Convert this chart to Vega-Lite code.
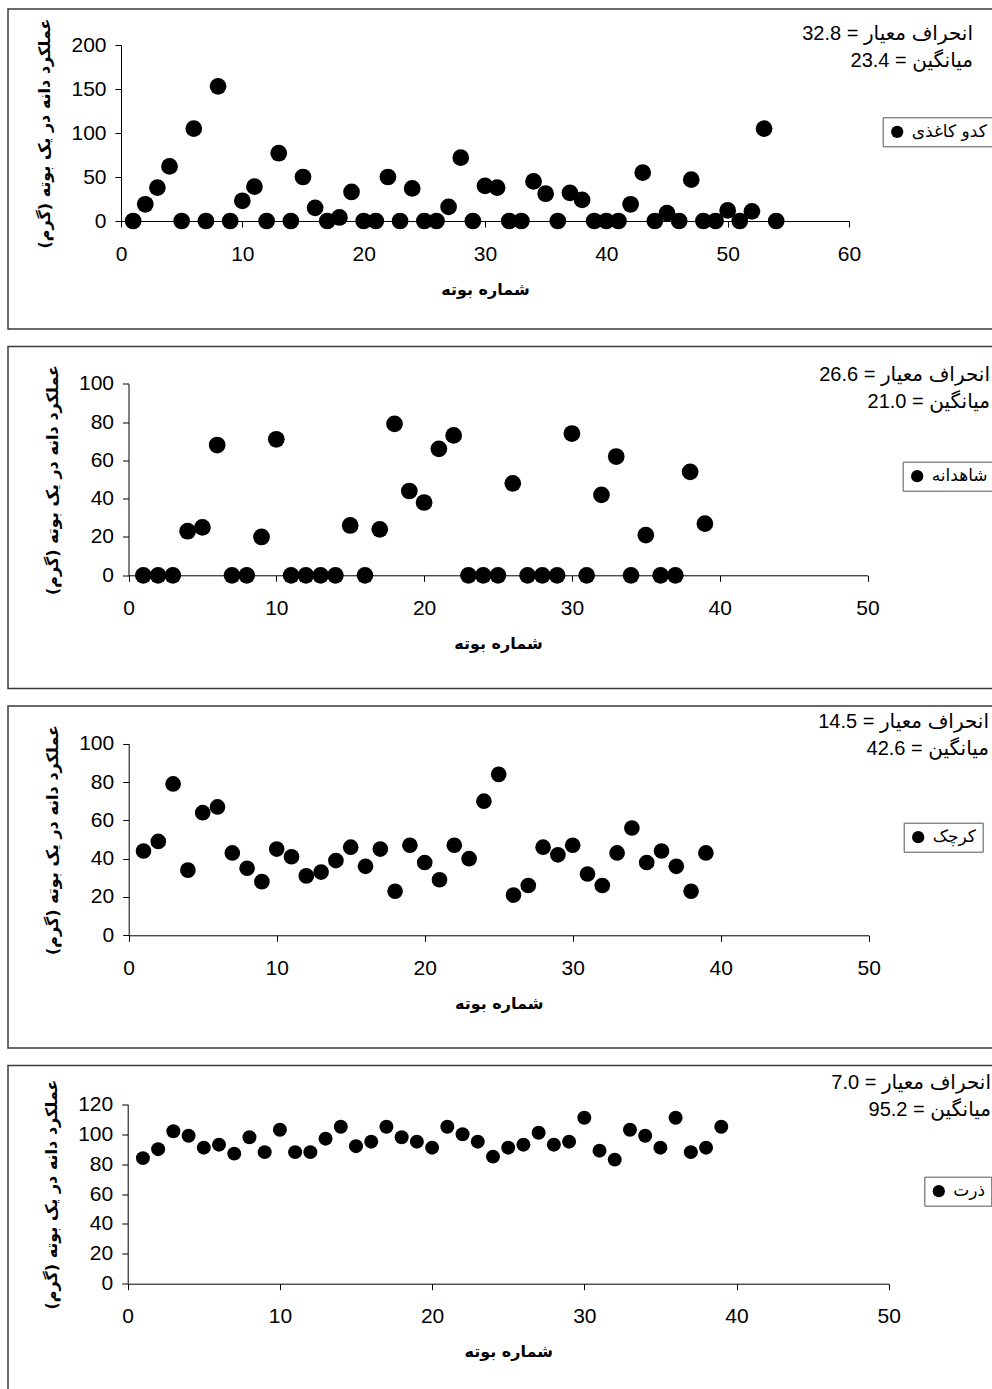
{
  "$schema": "https://vega.github.io/schema/vega-lite/v6.json",
  "padding": {"left": 7, "top": 8, "right": -25, "bottom": -16},
  "background": "white",
  "spacing": 15.5,
  "config": {
    "view": {"stroke": "#3a3a3a", "strokeWidth": 1.5},
    "font": "Liberation Sans, Arial, DejaVu Sans, sans-serif",
    "axis": {"grid": false, "domainColor": "black", "tickColor": "black", "domainWidth": 1, "tickWidth": 1, "tickSize": 6, "labelColor": "black", "labelFontSize": 21, "labelFont": "Liberation Sans, Arial, sans-serif", "labelOverlap": false, "labelFlush": false, "titleFontSize": 16, "titleFontWeight": "bold", "titleColor": "black", "titleFont": "DejaVu Sans, sans-serif"},
    "axisX": {"labelPadding": 16, "titlePadding": 17},
    "axisY": {"labelPadding": 9, "titlePadding": 18},
    "legend": {"orient": "none", "strokeColor": "#555555", "strokeWidth": 1, "padding": 6, "fillColor": "white", "labelFontSize": 17, "labelFont": "DejaVu Sans, sans-serif", "labelColor": "black", "symbolSize": 150, "symbolType": "circle", "labelOffset": 6, "symbolStrokeWidth": 0},
    "title": {"anchor": "end", "frame": "group", "orient": "top", "fontSize": 20, "fontWeight": "normal", "color": "black", "lineHeight": 27, "align": "right", "baseline": "top", "font": "Liberation Sans, Arial, DejaVu Sans, sans-serif"}
  },
  "resolve": {"scale": {"color": "independent"}, "legend": {"color": "independent"}},
  "datasets": {
    "p1": [
      {"n": 1, "y": 0, "crop": "کدو کاغذی"}, {"n": 2, "y": 19, "crop": "کدو کاغذی"}, {"n": 3, "y": 38, "crop": "کدو کاغذی"}, {"n": 4, "y": 62, "crop": "کدو کاغذی"}, {"n": 5, "y": 0, "crop": "کدو کاغذی"}, {"n": 6, "y": 105, "crop": "کدو کاغذی"}, {"n": 7, "y": 0, "crop": "کدو کاغذی"}, {"n": 8, "y": 153, "crop": "کدو کاغذی"}, {"n": 9, "y": 0, "crop": "کدو کاغذی"}, {"n": 10, "y": 23, "crop": "کدو کاغذی"},
      {"n": 11, "y": 39, "crop": "کدو کاغذی"}, {"n": 12, "y": 0, "crop": "کدو کاغذی"}, {"n": 13, "y": 77, "crop": "کدو کاغذی"}, {"n": 14, "y": 0, "crop": "کدو کاغذی"}, {"n": 15, "y": 50, "crop": "کدو کاغذی"}, {"n": 16, "y": 15, "crop": "کدو کاغذی"}, {"n": 17, "y": 0, "crop": "کدو کاغذی"}, {"n": 18, "y": 4, "crop": "کدو کاغذی"}, {"n": 19, "y": 33, "crop": "کدو کاغذی"}, {"n": 20, "y": 0, "crop": "کدو کاغذی"},
      {"n": 21, "y": 0, "crop": "کدو کاغذی"}, {"n": 22, "y": 50, "crop": "کدو کاغذی"}, {"n": 23, "y": 0, "crop": "کدو کاغذی"}, {"n": 24, "y": 37, "crop": "کدو کاغذی"}, {"n": 25, "y": 0, "crop": "کدو کاغذی"}, {"n": 26, "y": 0, "crop": "کدو کاغذی"}, {"n": 27, "y": 16, "crop": "کدو کاغذی"}, {"n": 28, "y": 72, "crop": "کدو کاغذی"}, {"n": 29, "y": 0, "crop": "کدو کاغذی"}, {"n": 30, "y": 40, "crop": "کدو کاغذی"},
      {"n": 31, "y": 38, "crop": "کدو کاغذی"}, {"n": 32, "y": 0, "crop": "کدو کاغذی"}, {"n": 33, "y": 0, "crop": "کدو کاغذی"}, {"n": 34, "y": 45, "crop": "کدو کاغذی"}, {"n": 35, "y": 31, "crop": "کدو کاغذی"}, {"n": 36, "y": 0, "crop": "کدو کاغذی"}, {"n": 37, "y": 32, "crop": "کدو کاغذی"}, {"n": 38, "y": 24, "crop": "کدو کاغذی"}, {"n": 39, "y": 0, "crop": "کدو کاغذی"}, {"n": 40, "y": 0, "crop": "کدو کاغذی"},
      {"n": 41, "y": 0, "crop": "کدو کاغذی"}, {"n": 42, "y": 19, "crop": "کدو کاغذی"}, {"n": 43, "y": 55, "crop": "کدو کاغذی"}, {"n": 44, "y": 0, "crop": "کدو کاغذی"}, {"n": 45, "y": 9, "crop": "کدو کاغذی"}, {"n": 46, "y": 0, "crop": "کدو کاغذی"}, {"n": 47, "y": 47, "crop": "کدو کاغذی"}, {"n": 48, "y": 0, "crop": "کدو کاغذی"}, {"n": 49, "y": 0, "crop": "کدو کاغذی"}, {"n": 50, "y": 12, "crop": "کدو کاغذی"},
      {"n": 51, "y": 0, "crop": "کدو کاغذی"}, {"n": 52, "y": 11, "crop": "کدو کاغذی"}, {"n": 53, "y": 105, "crop": "کدو کاغذی"}, {"n": 54, "y": 0, "crop": "کدو کاغذی"}
    ],
    "p2": [
      {"n": 1, "y": 0, "crop": "شاهدانه"}, {"n": 2, "y": 0, "crop": "شاهدانه"}, {"n": 3, "y": 0, "crop": "شاهدانه"}, {"n": 4, "y": 23, "crop": "شاهدانه"}, {"n": 5, "y": 25, "crop": "شاهدانه"}, {"n": 6, "y": 68, "crop": "شاهدانه"}, {"n": 7, "y": 0, "crop": "شاهدانه"}, {"n": 8, "y": 0, "crop": "شاهدانه"}, {"n": 9, "y": 20, "crop": "شاهدانه"}, {"n": 10, "y": 71, "crop": "شاهدانه"},
      {"n": 11, "y": 0, "crop": "شاهدانه"}, {"n": 12, "y": 0, "crop": "شاهدانه"}, {"n": 13, "y": 0, "crop": "شاهدانه"}, {"n": 14, "y": 0, "crop": "شاهدانه"}, {"n": 15, "y": 26, "crop": "شاهدانه"}, {"n": 16, "y": 0, "crop": "شاهدانه"}, {"n": 17, "y": 24, "crop": "شاهدانه"}, {"n": 18, "y": 79, "crop": "شاهدانه"}, {"n": 19, "y": 44, "crop": "شاهدانه"}, {"n": 20, "y": 38, "crop": "شاهدانه"},
      {"n": 21, "y": 66, "crop": "شاهدانه"}, {"n": 22, "y": 73, "crop": "شاهدانه"}, {"n": 23, "y": 0, "crop": "شاهدانه"}, {"n": 24, "y": 0, "crop": "شاهدانه"}, {"n": 25, "y": 0, "crop": "شاهدانه"}, {"n": 26, "y": 48, "crop": "شاهدانه"}, {"n": 27, "y": 0, "crop": "شاهدانه"}, {"n": 28, "y": 0, "crop": "شاهدانه"}, {"n": 29, "y": 0, "crop": "شاهدانه"}, {"n": 30, "y": 74, "crop": "شاهدانه"},
      {"n": 31, "y": 0, "crop": "شاهدانه"}, {"n": 32, "y": 42, "crop": "شاهدانه"}, {"n": 33, "y": 62, "crop": "شاهدانه"}, {"n": 34, "y": 0, "crop": "شاهدانه"}, {"n": 35, "y": 21, "crop": "شاهدانه"}, {"n": 36, "y": 0, "crop": "شاهدانه"}, {"n": 37, "y": 0, "crop": "شاهدانه"}, {"n": 38, "y": 54, "crop": "شاهدانه"}, {"n": 39, "y": 27, "crop": "شاهدانه"}
    ],
    "p3": [
      {"n": 1, "y": 44, "crop": "کرچک"}, {"n": 2, "y": 49, "crop": "کرچک"}, {"n": 3, "y": 79, "crop": "کرچک"}, {"n": 4, "y": 34, "crop": "کرچک"}, {"n": 5, "y": 64, "crop": "کرچک"}, {"n": 6, "y": 67, "crop": "کرچک"}, {"n": 7, "y": 43, "crop": "کرچک"}, {"n": 8, "y": 35, "crop": "کرچک"}, {"n": 9, "y": 28, "crop": "کرچک"}, {"n": 10, "y": 45, "crop": "کرچک"},
      {"n": 11, "y": 41, "crop": "کرچک"}, {"n": 12, "y": 31, "crop": "کرچک"}, {"n": 13, "y": 33, "crop": "کرچک"}, {"n": 14, "y": 39, "crop": "کرچک"}, {"n": 15, "y": 46, "crop": "کرچک"}, {"n": 16, "y": 36, "crop": "کرچک"}, {"n": 17, "y": 45, "crop": "کرچک"}, {"n": 18, "y": 23, "crop": "کرچک"}, {"n": 19, "y": 47, "crop": "کرچک"}, {"n": 20, "y": 38, "crop": "کرچک"},
      {"n": 21, "y": 29, "crop": "کرچک"}, {"n": 22, "y": 47, "crop": "کرچک"}, {"n": 23, "y": 40, "crop": "کرچک"}, {"n": 24, "y": 70, "crop": "کرچک"}, {"n": 25, "y": 84, "crop": "کرچک"}, {"n": 26, "y": 21, "crop": "کرچک"}, {"n": 27, "y": 26, "crop": "کرچک"}, {"n": 28, "y": 46, "crop": "کرچک"}, {"n": 29, "y": 42, "crop": "کرچک"}, {"n": 30, "y": 47, "crop": "کرچک"},
      {"n": 31, "y": 32, "crop": "کرچک"}, {"n": 32, "y": 26, "crop": "کرچک"}, {"n": 33, "y": 43, "crop": "کرچک"}, {"n": 34, "y": 56, "crop": "کرچک"}, {"n": 35, "y": 38, "crop": "کرچک"}, {"n": 36, "y": 44, "crop": "کرچک"}, {"n": 37, "y": 36, "crop": "کرچک"}, {"n": 38, "y": 23, "crop": "کرچک"}, {"n": 39, "y": 43, "crop": "کرچک"}
    ],
    "p4": [
      {"n": 1, "y": 84, "crop": "ذرت"}, {"n": 2, "y": 90, "crop": "ذرت"}, {"n": 3, "y": 102, "crop": "ذرت"}, {"n": 4, "y": 99, "crop": "ذرت"}, {"n": 5, "y": 91, "crop": "ذرت"}, {"n": 6, "y": 93, "crop": "ذرت"}, {"n": 7, "y": 87, "crop": "ذرت"}, {"n": 8, "y": 98, "crop": "ذرت"}, {"n": 9, "y": 88, "crop": "ذرت"}, {"n": 10, "y": 103, "crop": "ذرت"},
      {"n": 11, "y": 88, "crop": "ذرت"}, {"n": 12, "y": 88, "crop": "ذرت"}, {"n": 13, "y": 97, "crop": "ذرت"}, {"n": 14, "y": 105, "crop": "ذرت"}, {"n": 15, "y": 92, "crop": "ذرت"}, {"n": 16, "y": 95, "crop": "ذرت"}, {"n": 17, "y": 105, "crop": "ذرت"}, {"n": 18, "y": 98, "crop": "ذرت"}, {"n": 19, "y": 95, "crop": "ذرت"}, {"n": 20, "y": 91, "crop": "ذرت"},
      {"n": 21, "y": 105, "crop": "ذرت"}, {"n": 22, "y": 100, "crop": "ذرت"}, {"n": 23, "y": 95, "crop": "ذرت"}, {"n": 24, "y": 85, "crop": "ذرت"}, {"n": 25, "y": 91, "crop": "ذرت"}, {"n": 26, "y": 93, "crop": "ذرت"}, {"n": 27, "y": 101, "crop": "ذرت"}, {"n": 28, "y": 93, "crop": "ذرت"}, {"n": 29, "y": 95, "crop": "ذرت"}, {"n": 30, "y": 111, "crop": "ذرت"},
      {"n": 31, "y": 89, "crop": "ذرت"}, {"n": 32, "y": 83, "crop": "ذرت"}, {"n": 33, "y": 103, "crop": "ذرت"}, {"n": 34, "y": 99, "crop": "ذرت"}, {"n": 35, "y": 91, "crop": "ذرت"}, {"n": 36, "y": 111, "crop": "ذرت"}, {"n": 37, "y": 88, "crop": "ذرت"}, {"n": 38, "y": 91, "crop": "ذرت"}, {"n": 39, "y": 105, "crop": "ذرت"}
    ]
  },
  "vconcat": [
    {
      "width": 1010, "height": 320,
      "data": {"name": "p1"},
      "title": {"text": ["انحراف معیار = 32.8", "میانگین = 23.4"], "dx": -45, "offset": -62},
      "mark": {"type": "circle", "size": 280, "opacity": 1, "color": "black"},
      "encoding": {
        "x": {"field": "n", "type": "quantitative", "scale": {"domain": [0, 60], "range": [113, 841], "nice": false, "zero": false}, "axis": {"values": [0, 10, 20, 30, 40, 50, 60], "offset": -108, "title": "شماره بوته"}},
        "y": {"field": "y", "type": "quantitative", "scale": {"domain": [0, 200], "range": [212, 36], "nice": false}, "axis": {"values": [0, 50, 100, 150, 200], "offset": -113, "title": "عملکرد دانه در یک بوته (گرم)\u200f"}},
        "color": {"field": "crop", "type": "nominal", "scale": {"range": ["black"]}, "legend": {"title": null, "legendX": 874.7, "legendY": 108.3}}
      }
    },
    {
      "width": 1010, "height": 342,
      "data": {"name": "p2"},
      "title": {"text": ["انحراف معیار = 26.6", "میانگین = 21.0"], "dx": -28, "offset": -65},
      "mark": {"type": "circle", "size": 280, "opacity": 1, "color": "black"},
      "encoding": {
        "x": {"field": "n", "type": "quantitative", "scale": {"domain": [0, 50], "range": [120.5, 859.5], "nice": false, "zero": false}, "axis": {"values": [0, 10, 20, 30, 40, 50], "offset": -113.2, "title": "شماره بوته"}},
        "y": {"field": "y", "type": "quantitative", "scale": {"domain": [0, 100], "range": [228.8, 37.2], "nice": false}, "axis": {"values": [0, 20, 40, 60, 80, 100], "offset": -120.5, "title": "عملکرد دانه در یک بوته (گرم)\u200f"}},
        "color": {"field": "crop", "type": "nominal", "scale": {"range": ["black"]}, "legend": {"title": null, "legendX": 894.7, "legendY": 115.2}}
      }
    },
    {
      "width": 1010, "height": 342,
      "data": {"name": "p3"},
      "title": {"text": ["انحراف معیار = 14.5", "میانگین = 42.6"], "dx": -29, "offset": -53},
      "mark": {"type": "circle", "size": 245, "opacity": 1, "color": "black"},
      "encoding": {
        "x": {"field": "n", "type": "quantitative", "scale": {"domain": [0, 50], "range": [120.7, 860.7], "nice": false, "zero": false}, "axis": {"values": [0, 10, 20, 30, 40, 50], "offset": -112.7, "title": "شماره بوته"}},
        "y": {"field": "y", "type": "quantitative", "scale": {"domain": [0, 100], "range": [229.3, 37.7], "nice": false}, "axis": {"values": [0, 20, 40, 60, 80, 100], "offset": -120.7, "title": "عملکرد دانه در یک بوته (گرم)\u200f"}},
        "color": {"field": "crop", "type": "nominal", "scale": {"range": ["black"]}, "legend": {"title": null, "legendX": 895.7, "legendY": 116.7}}
      }
    },
    {
      "width": 1010, "height": 340,
      "data": {"name": "p4"},
      "title": {"text": ["انحراف معیار = 7.0", "میانگین = 95.2"], "dx": -27, "offset": -54},
      "mark": {"type": "circle", "size": 195, "opacity": 1, "color": "black"},
      "encoding": {
        "x": {"field": "n", "type": "quantitative", "scale": {"domain": [0, 50], "range": [119.7, 880.7], "nice": false, "zero": false}, "axis": {"values": [0, 10, 20, 30, 40, 50], "offset": -121.8, "title": "شماره بوته"}},
        "y": {"field": "y", "type": "quantitative", "scale": {"domain": [0, 120], "range": [218.2, 38.8], "nice": false}, "axis": {"values": [0, 20, 40, 60, 80, 100, 120], "offset": -119.7, "title": "عملکرد دانه در یک بوته (گرم)\u200f"}},
        "color": {"field": "crop", "type": "nominal", "scale": {"range": ["black"]}, "legend": {"title": null, "legendX": 916.3, "legendY": 111.2}}
      }
    }
  ]
}
